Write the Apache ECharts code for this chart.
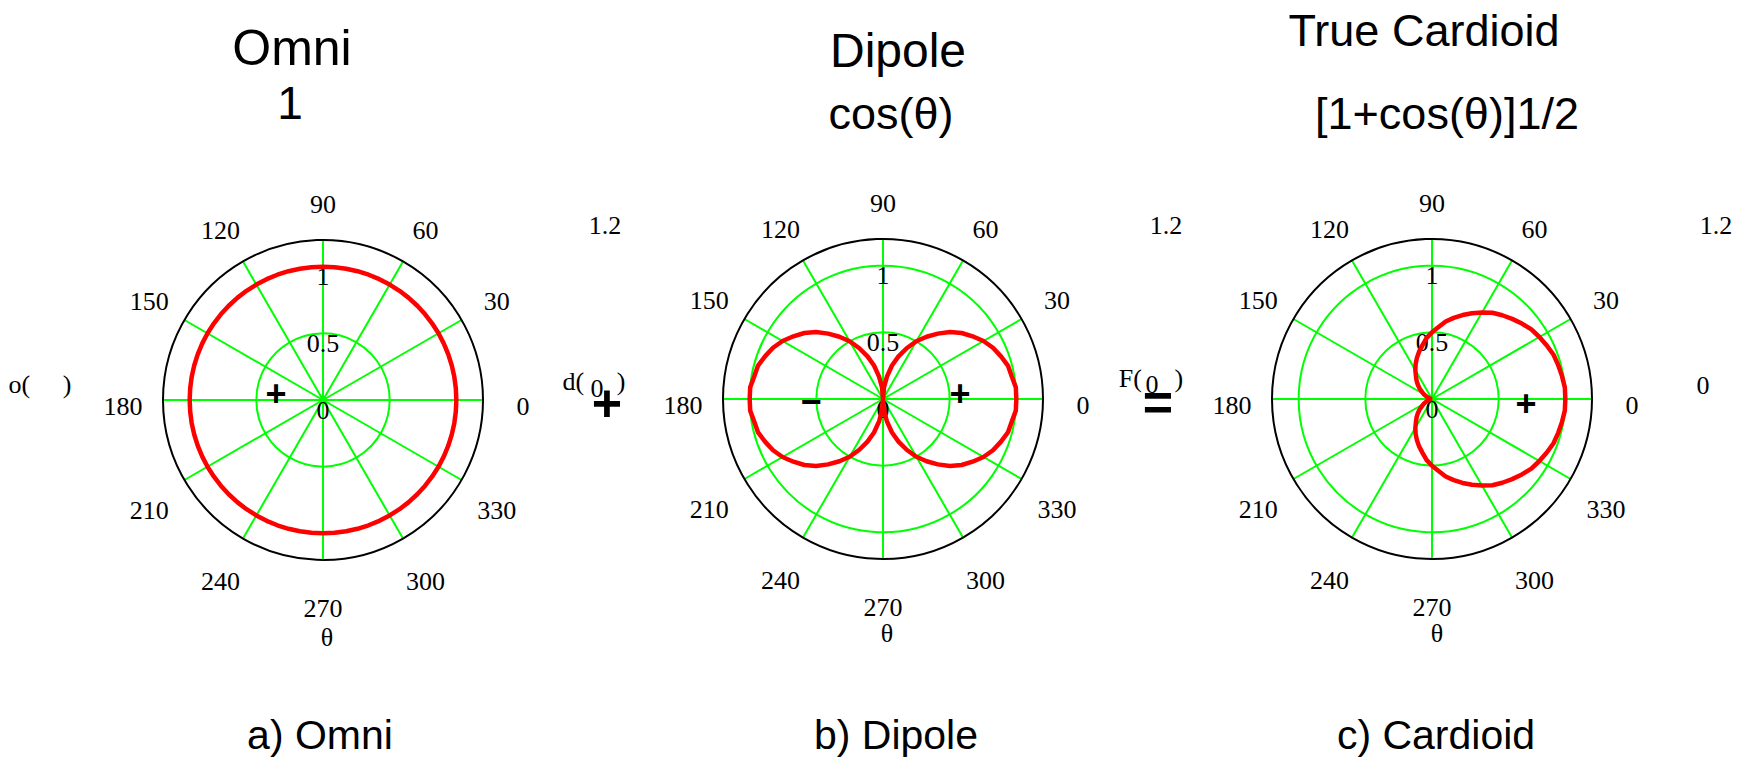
<!DOCTYPE html>
<html>
<head>
<meta charset="utf-8">
<script src="https://cdn.jsdelivr.net/npm/echarts@6/dist/echarts.min.js"></script>
<style>
html,body{margin:0;padding:0;background:#fff;}
#chart{width:1741px;height:758px;}
</style>
</head>
<body>
<div id="chart"></div>
<script>
// Angles (degrees) at which the patterns were read
const thetaDeg = [0,5,10,15,20,25,30,35,40,45,50,55,60,65,70,75,80,85,90,95,100,105,110,115,120,125,130,135,140,145,150,155,160,165,170,175,180,
  185,190,195,200,205,210,215,220,225,230,235,240,245,250,255,260,265,270,275,280,285,290,295,300,305,310,315,320,325,330,335,340,345,350,355,360];
// Omni pattern magnitude
const omniR = [1,1,1,1,1,1,1,1,1,1,1,1,1,1,1,1,1,1,1,1,1,1,1,1,1,1,1,1,1,1,1,1,1,1,1,1,1,
  1,1,1,1,1,1,1,1,1,1,1,1,1,1,1,1,1,1,1,1,1,1,1,1,1,1,1,1,1,1,1,1,1,1,1,1];
// Dipole pattern magnitude
const dipoleR = [1.00,1.00,0.98,0.97,0.94,0.91,0.87,0.82,0.77,0.71,0.64,0.57,0.50,0.42,0.34,0.26,0.17,0.09,0.00,0.09,0.17,0.26,0.34,0.42,0.50,0.57,0.64,0.71,0.77,0.82,0.87,0.91,0.94,0.97,0.98,1.00,1.00,
  1.00,0.98,0.97,0.94,0.91,0.87,0.82,0.77,0.71,0.64,0.57,0.50,0.42,0.34,0.26,0.17,0.09,0.00,0.09,0.17,0.26,0.34,0.42,0.50,0.57,0.64,0.71,0.77,0.82,0.87,0.91,0.94,0.97,0.98,1.00,1.00];
// Cardioid pattern magnitude
const cardioidR = [1.00,1.00,0.99,0.98,0.97,0.95,0.93,0.91,0.88,0.85,0.82,0.79,0.75,0.71,0.67,0.63,0.59,0.54,0.50,0.46,0.41,0.37,0.33,0.29,0.25,0.21,0.18,0.15,0.12,0.09,0.07,0.05,0.03,0.02,0.01,0.00,0.00,
  0.00,0.01,0.02,0.03,0.05,0.07,0.09,0.12,0.15,0.18,0.21,0.25,0.29,0.33,0.37,0.41,0.46,0.50,0.54,0.59,0.63,0.67,0.71,0.75,0.79,0.82,0.85,0.88,0.91,0.93,0.95,0.97,0.98,0.99,1.00,1.00];

const panelTitles = ['Omni','Dipole','True Cardioid'];
const panelFormulas = ['1','cos(\u03B8)','[1+cos(\u03B8)]1/2'];
const panelCaptions = ['a) Omni','b) Dipole','c) Cardioid'];
const yLabels = ['o(     )','d(     )','F(     )'];
const radiusMax = 1.2;
const radiusTicks = [0, 0.5, 1];

const SERIF = '"Liberation Serif","Times New Roman",serif';
const SANS = '"Liberation Sans",Arial,sans-serif';

const centers = [[323,400],[883,399],[1432,399]];
const R = 160;

const chart = echarts.init(document.getElementById('chart'), null, {renderer:'svg'});

function pairs(rs){ return rs.map((r,i)=>[r, thetaDeg[i]]); }
const seriesData = [omniR, dipoleR, cardioidR];

const polar = [], angleAxis = [], radiusAxis = [], series = [];
for (let i=0;i<3;i++){
  polar.push({center:centers[i], radius:[0,R]});
  angleAxis.push({
    polarIndex:i, type:'value', min:90, max:450, interval:30,
    startAngle:90, clockwise:false,
    axisLine:{show:true, lineStyle:{color:'#000', width:2}},
    axisTick:{show:false},
    splitLine:{show:true, lineStyle:{color:'#00ff00', width:2}},
    axisLabel:{show:true, margin:35, padding:[12,0,0,0],
      formatter:(v)=>'{a|' + String(((v%360)+360)%360) + '}',
      rich:{a:{width:10, height:2, lineHeight:2, align:'center', verticalAlign:'middle',
        fontFamily:SERIF, fontSize:26, color:'#000'}}}
  });
  radiusAxis.push({
    polarIndex:i, type:'value', min:0, max:radiusMax, interval:0.5,
    axisLine:{show:false}, axisTick:{show:false},
    splitLine:{show:true, lineStyle:{color:['#00ff00','#00ff00','#00ff00','rgba(0,0,0,0)'], width:2}},
    axisLabel:{show:true, margin:0, align:'center', verticalAlign:'top', lineHeight:20,
      fontFamily:SERIF, fontSize:26, color:'#000',
      formatter:(v)=> radiusTicks.indexOf(v) >= 0 ? String(v) : ''}
  });
  series.push({
    type:'line', coordinateSystem:'polar', polarIndex:i,
    data:pairs(seriesData[i]), showSymbol:false, symbol:'none',
    lineStyle:{color:'#ff0000', width:4.5}, clip:false, z:5
  });
}

function txt(x,y,text,font,size,weight){
  return {type:'text', x:x, y:y, z:10, style:{text:text, fontFamily:font, fontSize:size,
    fontWeight:weight||'normal', fill:'#000', align:'center', verticalAlign:'middle'}};
}

const graphic = [
  txt(292,48,panelTitles[0],SANS,50),
  txt(898,50,panelTitles[1],SANS,48),
  txt(1424,30,panelTitles[2],SANS,45),
  txt(290,103,panelFormulas[0],SANS,46),
  txt(891,113,panelFormulas[1],SANS,45),
  txt(1447,113,panelFormulas[2],SANS,45),
  txt(320,735,panelCaptions[0],SANS,41),
  txt(896,735,panelCaptions[1],SANS,41),
  txt(1436,735,panelCaptions[2],SANS,41),
  txt(40,384,yLabels[0],SERIF,26),
  txt(594,381,yLabels[1],SERIF,26),
  txt(1151,378,yLabels[2],SERIF,26),
  txt(597,388,'0',SERIF,26),
  txt(1152,384,'0',SERIF,26),
  txt(1703,385,'0',SERIF,26),
  txt(605,225,String(radiusMax),SERIF,26),
  txt(1166,225,String(radiusMax),SERIF,26),
  txt(1716,225,String(radiusMax),SERIF,26),
  txt(327,637,'\u03B8',SERIF,26),
  txt(887,633,'\u03B8',SERIF,26),
  txt(1437,633,'\u03B8',SERIF,26),
  txt(607,403,'+',SANS,52,'bold'),
  txt(1158,402,'=',SANS,52,'bold'),
  txt(276,393,'+',SANS,36,'bold'),
  txt(811,401,'\u2212',SANS,36,'bold'),
  txt(960,393,'+',SANS,36,'bold'),
  txt(1526,403,'+',SANS,36,'bold')
];

chart.setOption({
  backgroundColor:'#fff',
  animation:false,
  polar:polar, angleAxis:angleAxis, radiusAxis:radiusAxis, series:series,
  graphic:graphic
});
</script>
</body>
</html>
